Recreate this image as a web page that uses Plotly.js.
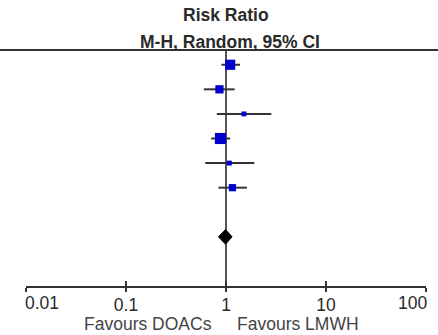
<!DOCTYPE html>
<html>
<head>
<meta charset="utf-8">
<script src="https://cdn.plot.ly/plotly-3.0.1.min.js"></script>
<style>html,body{margin:0;padding:0;background:#fff;}#chart{width:438px;height:335px;}</style>
</head>
<body>
<div id="chart"></div>
<script>
// Study estimates (risk ratio) and 95% CI
const rows = [0, 1, 2, 3, 4, 5];
const rr = [1.10, 0.86, 1.51, 0.88, 1.08, 1.16];
const ciLow = [0.90, 0.60, 0.81, 0.71, 0.62, 0.84];
const ciHigh = [1.38, 1.22, 2.84, 1.10, 1.92, 1.62];
const weights = [26, 17, 6, 31, 6, 13];
// Pooled estimate
const pooledRow = 7;
const pooledRR = 0.99;
const pooledLow = 0.84;
const pooledHigh = 1.15;
// Axis ticks
const tickVals = [0.01, 0.1, 1, 10, 100];
const tickText = ['0.01', '0.1', '1', '10', '100'];

const FONT = 'Liberation Sans, Arial, sans-serif';
const TXT = '#2a2a2a';
const FS = 17.5;

// CI lines
const ciX = [], ciY = [];
rows.forEach((r, i) => { ciX.push(ciLow[i], ciHigh[i], null); ciY.push(r, r, null); });

const traces = [
  {x: ciX, y: ciY, mode: 'lines', line: {color: '#333', width: 2}, hoverinfo: 'skip', showlegend: false},
  {x: rr, y: rows, mode: 'markers', showlegend: false, opacity: 1,
   marker: {symbol: 'square', color: '#0000cc', opacity: 1, size: weights.map(w => 2 * Math.sqrt(w)), line: {width: 0}}},
  {x: [pooledLow, pooledRR, pooledHigh, pooledRR, pooledLow],
   y: [pooledRow, pooledRow - 0.3, pooledRow, pooledRow + 0.3, pooledRow],
   mode: 'lines', fill: 'toself', fillcolor: '#000', line: {color: '#000', width: 1}, showlegend: false},
  {x: [], y: [], xaxis: 'x2', yaxis: 'y', showlegend: false}
];

// Inner tick labels on the axis; the two end labels are aligned inward like the reference
const midText = tickText.map((t, i) => (i === 0 || i === tickText.length - 1) ? '' : t);
const endLabels = [
  {text: tickText[0], x: Math.log10(tickVals[0]), xanchor: 'left'},
  {text: tickText[tickText.length - 1], x: Math.log10(tickVals[tickVals.length - 1]), xanchor: 'right'}
].map(a => ({text: a.text, xref: 'x', yref: 'paper', x: a.x, y: -0.07, xanchor: a.xanchor, yanchor: 'middle',
  showarrow: false, xshift: a.xanchor === 'left' ? -3 : 3, font: {family: FONT, size: FS, color: TXT}}));

const layout = {
  width: 438, height: 335,
  margin: {l: 26, r: 12, t: 50, b: 49},
  paper_bgcolor: '#fff', plot_bgcolor: '#fff',
  showlegend: false,
  font: {family: FONT, color: TXT, size: FS},
  xaxis: {
    type: 'log', range: [-2, 2], tickvals: tickVals, ticktext: midText,
    showline: true, linecolor: '#333', linewidth: 2,
    ticks: 'outside', ticklen: 4, tickwidth: 2, tickcolor: '#333',
    ticklabelstandoff: -2,
    showgrid: false, zeroline: false, fixedrange: true,
    tickfont: {family: FONT, size: FS, color: TXT}
  },
  xaxis2: {
    type: 'log', range: [-2, 2], tickvals: tickVals, overlaying: 'x', anchor: 'y', side: 'bottom',
    showline: false, ticks: 'inside', ticklen: 5, tickwidth: 2, tickcolor: '#333',
    showticklabels: false, showgrid: false, zeroline: false, fixedrange: true
  },
  yaxis: {range: [9.0, -0.6], visible: false, showgrid: false, zeroline: false, fixedrange: true},
  shapes: [
    {type: 'line', xref: 'paper', yref: 'paper', x0: -0.07, x1: 1.04, y0: 1, y1: 1, line: {color: '#333', width: 2}},
    {type: 'line', xref: 'x', yref: 'paper', x0: 1, x1: 1, y0: 0, y1: 1, line: {color: '#555', width: 2}, layer: 'below'}
  ],
  annotations: [
    {text: '<b>Risk Ratio</b>', xref: 'paper', yref: 'paper', x: 0.5, y: 1.148, xanchor: 'center', yanchor: 'middle', showarrow: false, font: {family: FONT, size: FS, color: TXT}},
    {text: '<b>M-H, Random, 95% CI</b>', xref: 'paper', yref: 'paper', x: 0.51, y: 1.035, xanchor: 'center', yanchor: 'middle', showarrow: false, font: {family: FONT, size: FS, color: TXT}},
    {text: 'Favours DOACs', xref: 'paper', yref: 'paper', x: 0.305, y: -0.163, xanchor: 'center', yanchor: 'middle', showarrow: false, font: {family: FONT, size: FS, color: '#444'}},
    {text: 'Favours LMWH', xref: 'paper', yref: 'paper', x: 0.68, y: -0.163, xanchor: 'center', yanchor: 'middle', showarrow: false, font: {family: FONT, size: FS, color: '#444'}}
  ].concat(endLabels)
};

Plotly.newPlot('chart', traces, layout, {displayModeBar: false, staticPlot: true});
</script>
</body>
</html>
